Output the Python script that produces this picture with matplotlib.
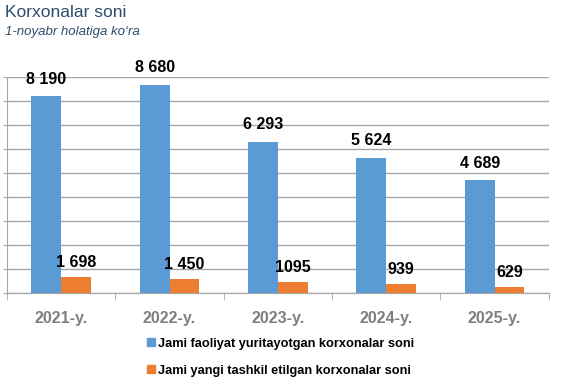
import matplotlib.pyplot as plt
from matplotlib.lines import Line2D
import numpy as np

plt.rcParams['font.family'] = ['Liberation Sans', 'DejaVu Sans']

years = ['2021-y.', '2022-y.', '2023-y.', '2024-y.', '2025-y.']
active = [8190, 8680, 6293, 5624, 4689]
new = [1698, 1450, 1095, 939, 629]
active_labels = ['8 190', '8 680', '6 293', '5 624', '4 689']
new_labels = ['1 698', '1 450', '1095', '939', '629']

BLUE = '#5B9BD5'
ORANGE = '#ED7D31'
GRID = '#a6a6a6'

fig = plt.figure(figsize=(5.85, 3.9), dpi=100)
ax = fig.add_axes([0.012, 0.249, 0.926, 0.554])
ax2 = ax.twinx()

x = np.arange(len(years))
w = 0.275

ax.bar(x - w / 2, active, w, color=BLUE, zorder=3)
ax2.bar(x + w / 2, new, w, color=ORANGE, zorder=3)

for xi, v, s in zip(x, active, active_labels):
    ax.annotate(s, (xi - w / 2, v), xytext=(0, 7), textcoords='offset points',
                ha='center', va='bottom', fontsize=11.5, fontweight='bold')
for xi, v, s in zip(x, new, new_labels):
    ax2.annotate(s, (xi + w / 2, v), xytext=(0, 5), textcoords='offset points',
                 ha='center', va='bottom', fontsize=11.5, fontweight='bold')

ax.set_xlim(-0.5, len(years) - 0.5)
ax.set_ylim(0, 9000)
ax2.set_ylim(0, 22500)
ax.set_yticks(np.arange(0, 9001, 1000))
ax.set_yticklabels([])
ax.yaxis.grid(True, color=GRID, linewidth=1, zorder=0)
ax.tick_params(axis='y', length=3, color=GRID)
ax2.set_yticks([])

ax.set_xticks(x)
ax.set_xticklabels(years, color='#7f7f7f', fontsize=11.5, fontweight='bold')
ax.set_xticks(np.arange(-0.5, len(years)), minor=True)
ax.tick_params(axis='x', which='major', length=0, pad=13)
ax.tick_params(axis='x', which='minor', length=5, color=GRID)

for a in (ax, ax2):
    for side in ('top', 'right'):
        a.spines[side].set_visible(False)
    a.spines['left'].set_color(GRID)
    a.spines['bottom'].set_color(GRID)
ax2.spines['left'].set_visible(False)

fig.text(0.008, 0.968, 'Korxonalar soni', fontsize=12.5, color='#2E4D6E', va='center')
fig.text(0.008, 0.918, '1-noyabr holatiga ko\u2018ra', fontsize=9.5, color='#2E4D6E',
         style='italic', va='center')

handles = [
    Line2D([], [], marker='s', linestyle='none', color=BLUE, markersize=6),
    Line2D([], [], marker='s', linestyle='none', color=ORANGE, markersize=6),
]
fig.legend(handles, ['Jami faoliyat yuritayotgan korxonalar soni',
                     'Jami yangi tashkil etilgan korxonalar soni'],
           loc='upper left', bbox_to_anchor=(0.228, 0.163), frameon=False,
           handletextpad=0.0, handlelength=1.0, labelspacing=1.15,
           prop={'weight': 'bold', 'size': 9.2})

fig.savefig('out.png', dpi=100)
